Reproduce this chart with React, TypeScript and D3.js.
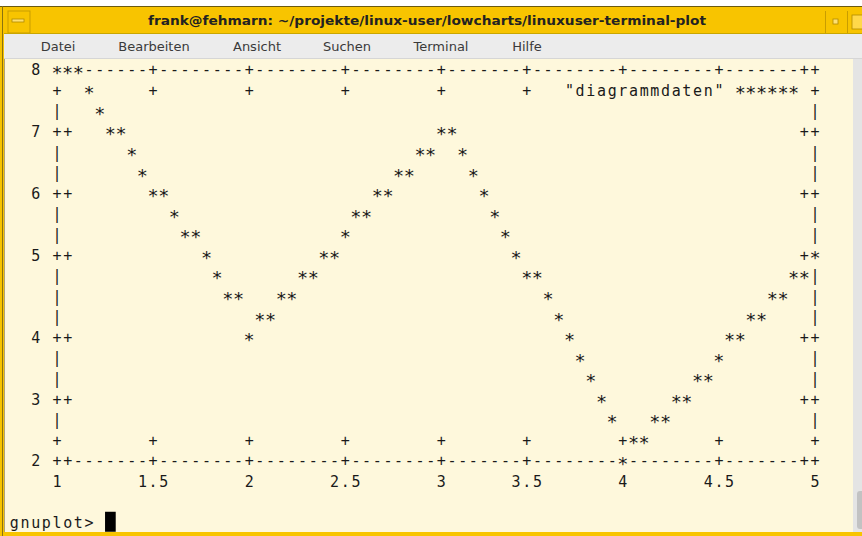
import React, { useMemo } from 'react';
import * as d3 from 'd3';

// window chrome
const windowTitle = 'frank@fehmarn: ~/projekte/linux-user/lowcharts/linuxuser-terminal-plot';
const menuItems = ['Datei', 'Bearbeiten', 'Ansicht', 'Suchen', 'Terminal', 'Hilfe'];
const menuCenters = [58, 154, 257, 347, 441, 527];

// plotted data (gnuplot, set term dumb)
const xValues = [1, 2, 3, 4, 5];
const yValues = [8, 4, 7, 2, 5];
const xTicks = [1, 1.5, 2, 2.5, 3, 3.5, 4, 4.5, 5];
const yTicks = [2, 3, 4, 5, 6, 7, 8];
const seriesTitle = '"diagrammdaten"';
const prompt = 'gnuplot> ';

const W = 862;
const H = 536;
const COLS = 80;
const ROWS = 23;
// terminal character cells of the plot border (y counts upwards like gnuplot)
const XLEFT = 4;
const XRIGHT = 75;
const YBOT = 0;
const YTOP = 19;

const colPx = d3.scaleLinear().domain([0, 1]).range([14.3, 14.3 + 10.676]);
const rowPx = d3.scaleLinear().domain([0, 1]).range([70, 70 + 20.58]);

function renderDumb(): string[][] {
  const cells: string[][] = Array.from({ length: ROWS }, () => Array(COLS).fill(' '));
  const put = (c: number, y: number, ch: string) => {
    const r = YTOP - y;
    if (r >= 0 && r < ROWS && c >= 0 && c < COLS) cells[r][c] = ch;
  };
  let cx = 0;
  let cy = 0;
  const move = (x: number, y: number) => {
    cx = x;
    cy = y;
  };
  // same stepping as gnuplot's DUMB_vector, (int) truncates toward zero
  const vector = (x: number, y: number, pen: string, pen1: string) => {
    const dx = x - cx;
    const dy = y - cy;
    const ax = Math.abs(dx);
    const ay = Math.abs(dy);
    put(cx, cy, pen1);
    if (ay > ax) {
      for (let d = 1; d < ay; d++) put(cx + Math.trunc((dx * d) / ay + 0.5), cy + d * Math.sign(dy), pen);
    } else if (ax > ay) {
      for (let d = 1; d < ax; d++) put(cx + d * Math.sign(dx), cy + Math.trunc((dy * d) / ax + 0.5), pen);
    } else {
      for (let d = 1; d < ax; d++) put(cx + d * Math.sign(dx), cy + d * Math.sign(dy), pen);
    }
    put(x, y, pen1);
    cx = x;
    cy = y;
  };
  const line = (x: number, y: number) => {
    const horiz = Math.abs(x - cx) > Math.abs(y - cy);
    vector(x, y, horiz ? '-' : '|', '+');
  };
  const text = (c: number, y: number, s: string) => {
    s.split('').forEach((ch, i) => put(c + i, y, ch));
  };

  const xs = d3.scaleLinear().domain([1, 5]).range([XLEFT, XRIGHT]);
  const ys = d3.scaleLinear().domain([2, 8]).range([YBOT, YTOP]);
  const mx = (v: number) => Math.floor(xs(v) + 0.5);
  const my = (v: number) => Math.floor(ys(v) + 0.5);

  // border
  move(XLEFT, YBOT);
  line(XRIGHT, YBOT);
  line(XRIGHT, YTOP);
  line(XLEFT, YTOP);
  line(XLEFT, YBOT);

  // tics, mirrored
  xTicks.forEach((t) => {
    const c = mx(t);
    move(c, YBOT);
    line(c, YBOT + 1);
    move(c, YTOP);
    line(c, YTOP - 1);
    const lab = String(t);
    text(c - Math.floor(lab.length / 2), YBOT - 1, lab);
  });
  yTicks.forEach((t) => {
    const y = my(t);
    move(XLEFT, y);
    line(XLEFT + 1, y);
    move(XRIGHT, y);
    line(XRIGHT - 1, y);
    const lab = String(t);
    text(XLEFT - 1 - lab.length, y, lab);
  });

  // key
  const sampleEnd = XRIGHT - 2;
  const sampleStart = sampleEnd - 5;
  text(sampleStart - 1 - seriesTitle.length, YTOP - 1, seriesTitle);
  move(sampleStart, YTOP - 1);
  vector(sampleEnd, YTOP - 1, '*', '*');

  // the data, with lines
  move(mx(xValues[0]), my(yValues[0]));
  for (let i = 1; i < xValues.length; i++) vector(mx(xValues[i]), my(yValues[i]), '*', '*');

  text(0, YBOT - 3, prompt);
  return cells;
}

const App: React.FC = () => {
  const cells = useMemo(renderDumb, []);
  const glyphs: { r: number; c: number; ch: string }[] = [];
  cells.forEach((row, r) => row.forEach((ch, c) => ch !== ' ' && glyphs.push({ r, c, ch })));
  const cursorCol = prompt.length;
  const cursorRow = YTOP - (YBOT - 3);

  return (
    <svg width={W} height={H} style={{ position: 'fixed', left: 0, top: 0 }}>
      <rect x={0} y={0} width={W} height={H} fill="#ffffff" />
      {/* frame */}
      <rect x={0} y={6} width={W} height={H - 6} fill="#f8c400" />
      <line x1={0} y1={6.5} x2={W} y2={6.5} stroke="#6b5a10" />
      <line x1={2.5} y1={6} x2={2.5} y2={H} stroke="#8a7210" />
      {/* title bar */}
      <rect x={8} y={11} width={22} height={22} fill="none" stroke="#c99d00" />
      <rect x={12} y={19} width={12} height={3} fill="#ffe070" stroke="#b08a00" strokeWidth={0.8} />
      <line x1={825.5} y1={11} x2={825.5} y2={33} stroke="#c99d00" />
      <line x1={847.5} y1={11} x2={847.5} y2={33} stroke="#c99d00" />
      <rect x={833} y={19} width={5} height={5} fill="#ffe070" stroke="#b08a00" strokeWidth={0.8} />
      <rect x={852} y={15} width={12} height={14} fill="#ffd84a" stroke="#b08a00" strokeWidth={0.8} />
      <text
        x={427}
        y={25}
        textAnchor="middle"
        fontFamily="DejaVu Sans"
        fontWeight="bold"
        fontSize={13}
        textLength={558}
        lengthAdjust="spacingAndGlyphs"
        fill="#222"
      >
        {windowTitle}
      </text>
      {/* menu bar */}
      <rect x={4} y={33} width={W - 4} height={25} fill="#ececec" />
      <line x1={4} y1={33.5} x2={W} y2={33.5} stroke="#c9a600" />
      <line x1={4} y1={58.5} x2={W} y2={58.5} stroke="#d6d6d6" />
      {menuItems.map((m, i) => (
        <text key={m} x={menuCenters[i]} y={51} textAnchor="middle" fontFamily="DejaVu Sans" fontSize={13} fill="#3a3a3a">
          {m}
        </text>
      ))}
      {/* terminal */}
      <rect x={4} y={59} width={849} height={473} fill="#fef8dc" />
      <rect x={853} y={59} width={9} height={473} fill="#e4e4e4" />
      <rect x={857} y={491} width={8} height={38} rx={3} fill="#c2c2c2" />
      <line x1={4.5} y1={59} x2={4.5} y2={532} stroke="#7a6a30" strokeWidth={0.6} />
      <g fontFamily="DejaVu Sans Mono" fill="#1a1a1a" textAnchor="middle">
        {glyphs.map((g) =>
          g.ch === '*' ? (
            <text key={`${g.r}-${g.c}`} x={colPx(g.c)} y={rowPx(g.r) + 8.6} fontSize={18.5}>
              {g.ch}
            </text>
          ) : (
            <text key={`${g.r}-${g.c}`} x={colPx(g.c)} y={rowPx(g.r) + 5.3} fontSize={15}>
              {g.ch}
            </text>
          )
        )}
      </g>
      <rect
        x={colPx(cursorCol) - 5.34}
        y={rowPx(cursorRow) - 11}
        width={10.676}
        height={20}
        fill="#000"
      />
    </svg>
  );
};

export default App;
